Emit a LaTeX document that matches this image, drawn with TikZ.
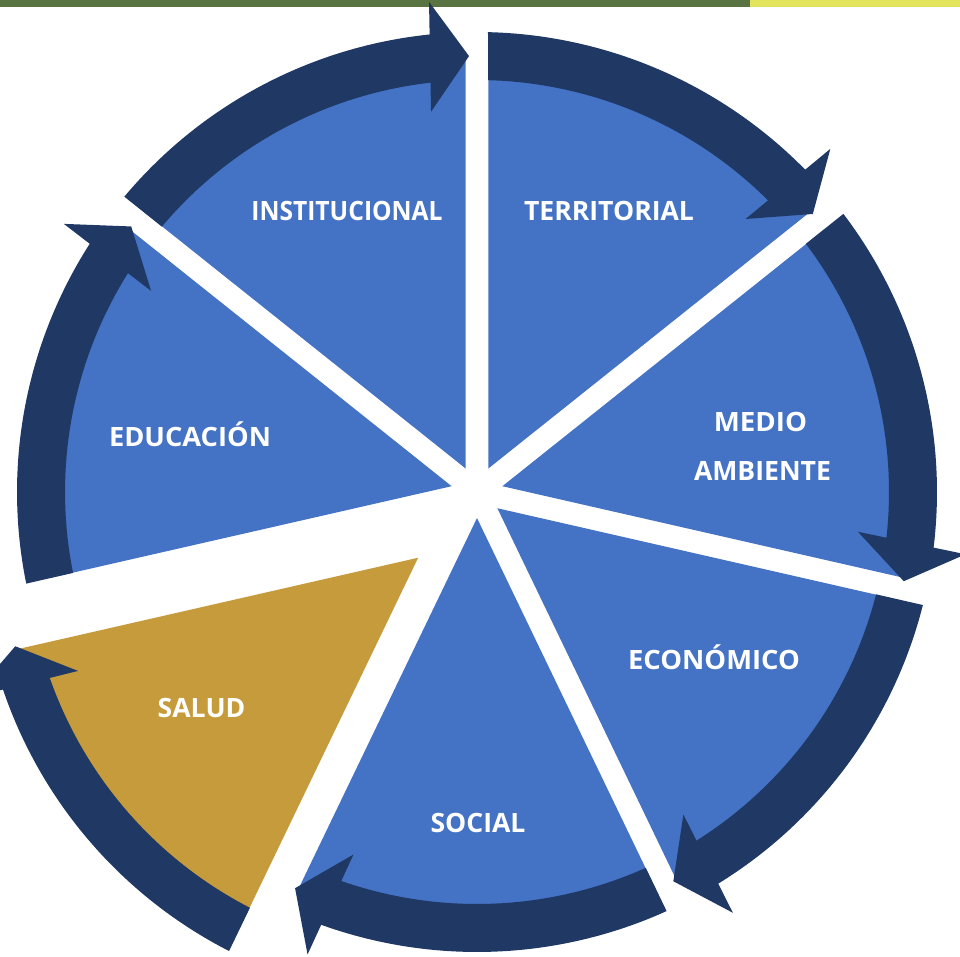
\documentclass[tikz,border=0pt]{standalone}
\usepackage{fontspec}
\usepackage{graphicx}
\setmainfont{Carlito}
\newfontfamily\lblfont{Open Sans}
\definecolor{sliceblue}{HTML}{4472C4}
\definecolor{darkblue}{HTML}{1F3864}
\definecolor{goldseg}{HTML}{C59B3C}
\definecolor{bargreen}{HTML}{5A7342}
\definecolor{baryellow}{HTML}{E2E45E}
% #1 = start angle of segment (clockwise flow), #2 = fill colour, #3 = centre
\newcommand\drawsegfill[3]{%
  \begin{scope}[shift={#3}]
    \pgfmathsetmacro\sgEnd{#1-51.428571}
    \pgfmathsetmacro\sgMid{#1-25.714286}
    \fill[#2] (\sgMid:26.04) -- ({#1-1.485}:436)
      arc[start angle={#1-1.485}, end angle={\sgEnd+1.485}, radius=436] -- cycle;
  \end{scope}}
\newcommand\drawsegarrow[2]{%
  \begin{scope}[shift={#2}]
    \pgfmathsetmacro\sgEnd{#1-51.428571}
    \pgfmathsetmacro\sgTip{\sgEnd+1.05}
    \pgfmathsetmacro\sgBand{\sgTip+4.5}
    \fill[darkblue] ({#1-1.37}:460)
      arc[start angle={#1-1.37}, end angle=\sgBand, radius=460]
      -- (\sgBand:412)
      arc[start angle=\sgBand, end angle={#1-1.53}, radius=412] -- cycle;
    \fill[darkblue] (\sgTip:436) -- ({\sgTip+4.541}:492.55) -- ({\sgTip+5.845}:383) -- cycle;
  \end{scope}}
\begin{document}
\begin{tikzpicture}[x=1pt,y=1pt,
  lbl/.style={text=white, font=\lblfont\bfseries\fontsize{26.6}{32}\selectfont, anchor=base, inner sep=0pt}]
\clip (0,0) rectangle (960,956);
\useasboundingbox (0,0) rectangle (960,956);
% top bar
\fill[bargreen] (0,948.7) rectangle (750,956);
\fill[baryellow] (750,948.7) rectangle (960,956);
% segments
\drawsegfill{90}{sliceblue}{(477,464)}
\drawsegfill{38.571429}{sliceblue}{(477,464)}
\drawsegfill{-12.857143}{sliceblue}{(477,464)}
\drawsegfill{-64.285714}{sliceblue}{(477,464)}
\drawsegfill{-115.714286}{goldseg}{(438.5,414.5)}
\drawsegfill{-167.142857}{sliceblue}{(477,464)}
\drawsegfill{-218.571429}{sliceblue}{(477,464)}
% arrows
\drawsegarrow{90}{(477,464)}
\drawsegarrow{38.571429}{(477,464)}
\drawsegarrow{-12.857143}{(477,464)}
\drawsegarrow{-64.285714}{(477,464)}
\drawsegarrow{-115.714286}{(438.5,414.5)}
\drawsegarrow{-167.142857}{(477,464)}
\drawsegarrow{-218.571429}{(477,464)}
% labels
\node[lbl] (inst) at (347,735.3) {\scalebox{0.925}[1]{INSTITUCIONAL}};
\node[lbl] (terr) at (609,735.3) {TERRITORIAL};
\node[lbl] (medio) at (760.5,524.3) {\scalebox{1.04}[1]{MEDIO}};
\node[lbl] (amb) at (762.5,475.8) {AMBIENTE};
\node[lbl] (edu) at (190,509.3) {\scalebox{1.025}[1]{EDUCACIÓN}};
\node[lbl] (eco) at (714,286.3) {\scalebox{1.03}[1]{ECONÓMICO}};
\node[lbl] (salud) at (201.5,238.3) {SALUD};
\node[lbl] (social) at (478,123.3) {SOCIAL};
\end{tikzpicture}
\end{document}
